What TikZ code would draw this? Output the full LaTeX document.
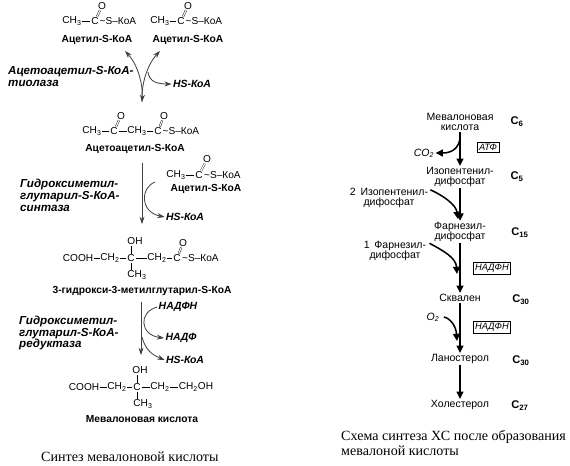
\documentclass[tikz,border=0pt]{standalone}
\usepackage{fontspec}
\setmainfont{Liberation Sans}
\newfontfamily\captionserif{Liberation Serif}
\usetikzlibrary{arrows.meta}
\newcommand{\lowidx}[1]{\textsubscript{#1}}
\newcommand{\koa}{\raisebox{0.3pt}{\textasciitilde}S--КоА}
\tikzset{
  atom/.style={inner sep=0.6pt,font=\fontsize{8.6}{10}\selectfont},
  chain/.style={atom,anchor=west,inner sep=0pt},
  compound/.style={inner sep=1pt,font=\fontsize{8.75}{10}\selectfont\bfseries},
  enzyme/.style={anchor=west,inner sep=0pt,align=left,font=\fontsize{9.9}{10}\selectfont\bfseries\itshape},
  product/.style={inner sep=1pt,font=\fontsize{8.9}{10}\selectfont\bfseries\itshape},
  sterol/.style={inner sep=1pt,align=center,font=\fontsize{9}{8.6}\selectfont},
  sideproduct/.style={sterol,font=\fontsize{9}{8.6}\selectfont\itshape},
  carbons/.style={inner sep=0pt,font=\fontsize{9.5}{10}\selectfont\bfseries},
  cofactor/.style={draw,line width=0.35pt,inner sep=1.6pt,font=\fontsize{7.9}{8}\selectfont\itshape},
  capt/.style={anchor=west,inner sep=0pt,align=left,font=\captionserif\fontsize{12}{12}\selectfont},
  bond/.style={line width=0.5pt},
  dbond/.style={double,double distance=1pt,line width=0.35pt},
  thinarrow/.style={line width=0.7pt,black!75,-{Stealth[length=2.2mm,width=1.5mm]}},
  thickarrow/.style={line width=1.3pt,-{Triangle[length=2.2mm,width=2.1mm]}}
}
\begin{document}
\begin{tikzpicture}[x=0.03cm,y=-0.03cm]
  \useasboundingbox (0,0) rectangle (570,465);

  \node[atom] (cha) at (72,21) {CH\lowidx{3}};
  \node[atom] (ca) at (95,21) {C};
  \node[atom] (oa) at (102,6) {O};
  \node[chain] (ska) at (99.5,21) {\koa};
  \draw[bond] (cha) -- (ca);
  \draw[dbond] (ca) -- (oa);
  \node[compound] (acname) at (97,40) {Ацетил-S-КоА};

  \node[atom] (chb) at (160,21) {CH\lowidx{3}};
  \node[atom] (cb) at (181,21) {C};
  \node[atom] (ob) at (188,6) {O};
  \node[chain] (skb) at (185.5,21) {\koa};
  \draw[bond] (chb) -- (cb);
  \draw[dbond] (cb) -- (ob);
  \node[compound] (acnameb) at (188,40) {Ацетил-S-КоА};

  \node[enzyme] (thiolase) at (8,76.5) {Ацетоацетил-S-КоА-\\тиолаза};
  \node[product] (hsa) at (192,84) {HS-КоА};
  \coordinate (tl) at (125,51);
  \coordinate (tr) at (160,51);
  \coordinate (tb) at (142,102);
  \coordinate (tj) at (148,72);
  \draw[thinarrow,{Stealth[length=2.2mm,width=1.5mm]}-{Stealth[length=2.2mm,width=1.5mm]}] (tl) .. controls (138,65) and (143,85) .. (tb);
  \draw[thinarrow] (tb) .. controls (141,85) and (147,65) .. (tr);
  \draw[thinarrow] (tj) .. controls (149,82) and (158,84) .. (hsa.west);

  \node[atom] (aa) at (92,131) {CH\lowidx{3}};
  \node[atom] (ab) at (114,131) {C};
  \node[atom] (ac) at (137,131) {CH\lowidx{3}};
  \node[atom] (ad) at (158,131) {C};
  \node[atom] (ao) at (121,116) {O};
  \node[atom] (ap) at (164,116) {O};
  \node[chain] (as) at (162.5,131) {\koa};
  \draw[bond] (aa) -- (ab);
  \draw[bond] (ab) -- (ac);
  \draw[bond] (ac) -- (ad);
  \draw[dbond] (ab) -- (ao);
  \draw[dbond] (ad) -- (ap);
  \node[compound] (aacname) at (135,149) {Ацетоацетил-S-КоА};

  \node[atom] (chc) at (176,175) {CH\lowidx{3}};
  \node[atom] (cc) at (199,175) {C};
  \node[atom] (oc) at (207,159) {O};
  \node[chain] (skc) at (204,175) {\koa};
  \draw[bond] (chc) -- (cc);
  \draw[dbond] (cc) -- (oc);
  \node[compound] (acnamec) at (206,189) {Ацетил-S-КоА};

  \node[enzyme] (synthase) at (20,195.5) {Гидроксиметил-\\глутарил-S-КоА-\\синтаза};
  \node[product] (hsb) at (185,217) {HS-КоА};
  \coordinate (sa) at (142,163);
  \coordinate (sb) at (142,224);
  \coordinate (sc) at (155,182);
  \draw[thinarrow] (sa) -- (sb);
  \draw[thinarrow] (sc) .. controls (140,188) and (140,212) .. (hsb.west);

  \node[atom] (ha) at (78,258) {COOH};
  \node[atom] (hb) at (110,258) {CH\lowidx{2}};
  \node[atom] (hc) at (131,258) {C};
  \node[atom] (hd) at (157,258) {CH\lowidx{2}};
  \node[atom] (he) at (177,258) {C};
  \node[atom] (ho) at (183,243) {O};
  \node[atom] (hh) at (135,241) {OH};
  \node[atom] (hm) at (137,275) {CH\lowidx{3}};
  \node[chain] (hs) at (182,258) {\koa};
  \draw[bond] (ha) -- (hb);
  \draw[bond] (hb) -- (hc);
  \draw[bond] (hc) -- (hd);
  \draw[bond] (hd) -- (he);
  \draw[dbond] (he) -- (ho);
  \draw[bond] (hc) -- (hc |- hh.south);
  \draw[bond] (hc) -- (hc |- hm.north);
  \node[compound] (hmgname) at (142,291) {3-гидрокси-3-метилглутарил-S-КоА};

  \node[enzyme] (reductase) at (19,333) {Гидроксиметил-\\глутарил-S-КоА-\\редуктаза};
  \node[product] (nadphin) at (178,307) {НАДФН};
  \node[product] (nadpout) at (181,338) {НАДФ};
  \node[product] (hsc) at (185,360) {HS-КоА};
  \coordinate (ra) at (141,302);
  \coordinate (rb) at (141,355);
  \coordinate (rc) at (142,337);
  \draw[thinarrow] (ra) -- (rb);
  \draw[thinarrow] (nadphin.west) .. controls (138,312) and (140,335) .. (nadpout.west);
  \draw[thinarrow] (rc) .. controls (145,348) and (150,354) .. (hsc.west);

  \node[atom] (ma) at (84,387) {COOH};
  \node[atom] (mb) at (117,387) {CH\lowidx{2}};
  \node[atom] (mc) at (137,387) {C};
  \node[atom] (md) at (160,387) {CH\lowidx{2}};
  \node[atom] (me) at (196,387) {CH\lowidx{2}OH};
  \node[atom] (mh) at (140,370) {OH};
  \node[atom] (mm) at (143,404) {CH\lowidx{3}};
  \draw[bond] (ma) -- (mb);
  \draw[bond] (mb) -- (mc);
  \draw[bond] (mc) -- (md);
  \draw[bond] (md) -- (me);
  \draw[bond] (mc) -- (mc |- mh.south);
  \draw[bond] (mc) -- (mc |- mm.north);
  \node[compound] (mevname) at (142,419) {Мевалоновая кислота};

  \node[capt] (captleft) at (41,457) {Синтез мевалоновой кислоты};

  \node[sterol] (mev) at (460,121.5) {Мевалоновая\\кислота};
  \node[sterol] (ipp) at (460,177) {Изопентенил-\\дифосфат};
  \node[sterol] (fpp) at (460,232) {Фарнезил-\\дифосфат};
  \node[sterol] (squal) at (460,298) {Сквален};
  \node[sterol] (lano) at (460,359) {Ланостерол};
  \node[sterol] (chol) at (460,405) {Холестерол};
  \draw[thickarrow] (mev) -- (ipp);
  \draw[thickarrow] (ipp) -- (fpp);
  \draw[thickarrow] (fpp) -- (squal);
  \draw[thickarrow] (squal) -- (lano);
  \draw[thickarrow] (lano) -- (chol);

  \node[carbons] (csix) at (517,122) {C\lowidx{6}};
  \node[carbons] (cfive) at (517,177) {C\lowidx{5}};
  \node[carbons] (cfifteen) at (520,233) {C\lowidx{15}};
  \node[carbons] (cthirty) at (521,300) {C\lowidx{30}};
  \node[carbons] (cthirtyb) at (521,361) {C\lowidx{30}};
  \node[carbons] (cseven) at (520,406) {C\lowidx{27}};

  \node[sideproduct] (cotwo) at (424,153) {CO\lowidx{2}};
  \node[sideproduct] (otwo) at (433,317) {O\lowidx{2}};
  \node[cofactor] (atp) at (488,147) {АТФ};
  \node[cofactor] (nadpha) at (492,268) {НАДФН};
  \node[cofactor] (nadphb) at (492,327) {НАДФН};
  \node[sterol] (ipptwo) at (389,198) {2\, Изопентенил-\\дифосфат};
  \node[sterol] (fppone) at (395,250.5) {1\, Фарнезил-\\дифосфат};
  \coordinate (ja) at (460,138);
  \coordinate (jb) at (458,219);
  \coordinate (jc) at (457,274);
  \coordinate (jd) at (457,341);
  \draw[thickarrow] (ja) .. controls (459,148) and (452,153) .. (cotwo.east);
  \draw[thickarrow] (ipptwo.north east) ++(1,3) .. controls (444,196) and (456,205) .. (jb);
  \draw[thickarrow] (fppone.north east) ++(2,4) .. controls (444,251) and (456,258) .. (jc);
  \draw[thickarrow] (otwo.east) ++(3,0) .. controls (450,318) and (456,326) .. (jd);

  \node[capt] (captright) at (341,443) {Схема синтеза ХС после образования\\мевалоной кислоты};
\end{tikzpicture}
\end{document}
